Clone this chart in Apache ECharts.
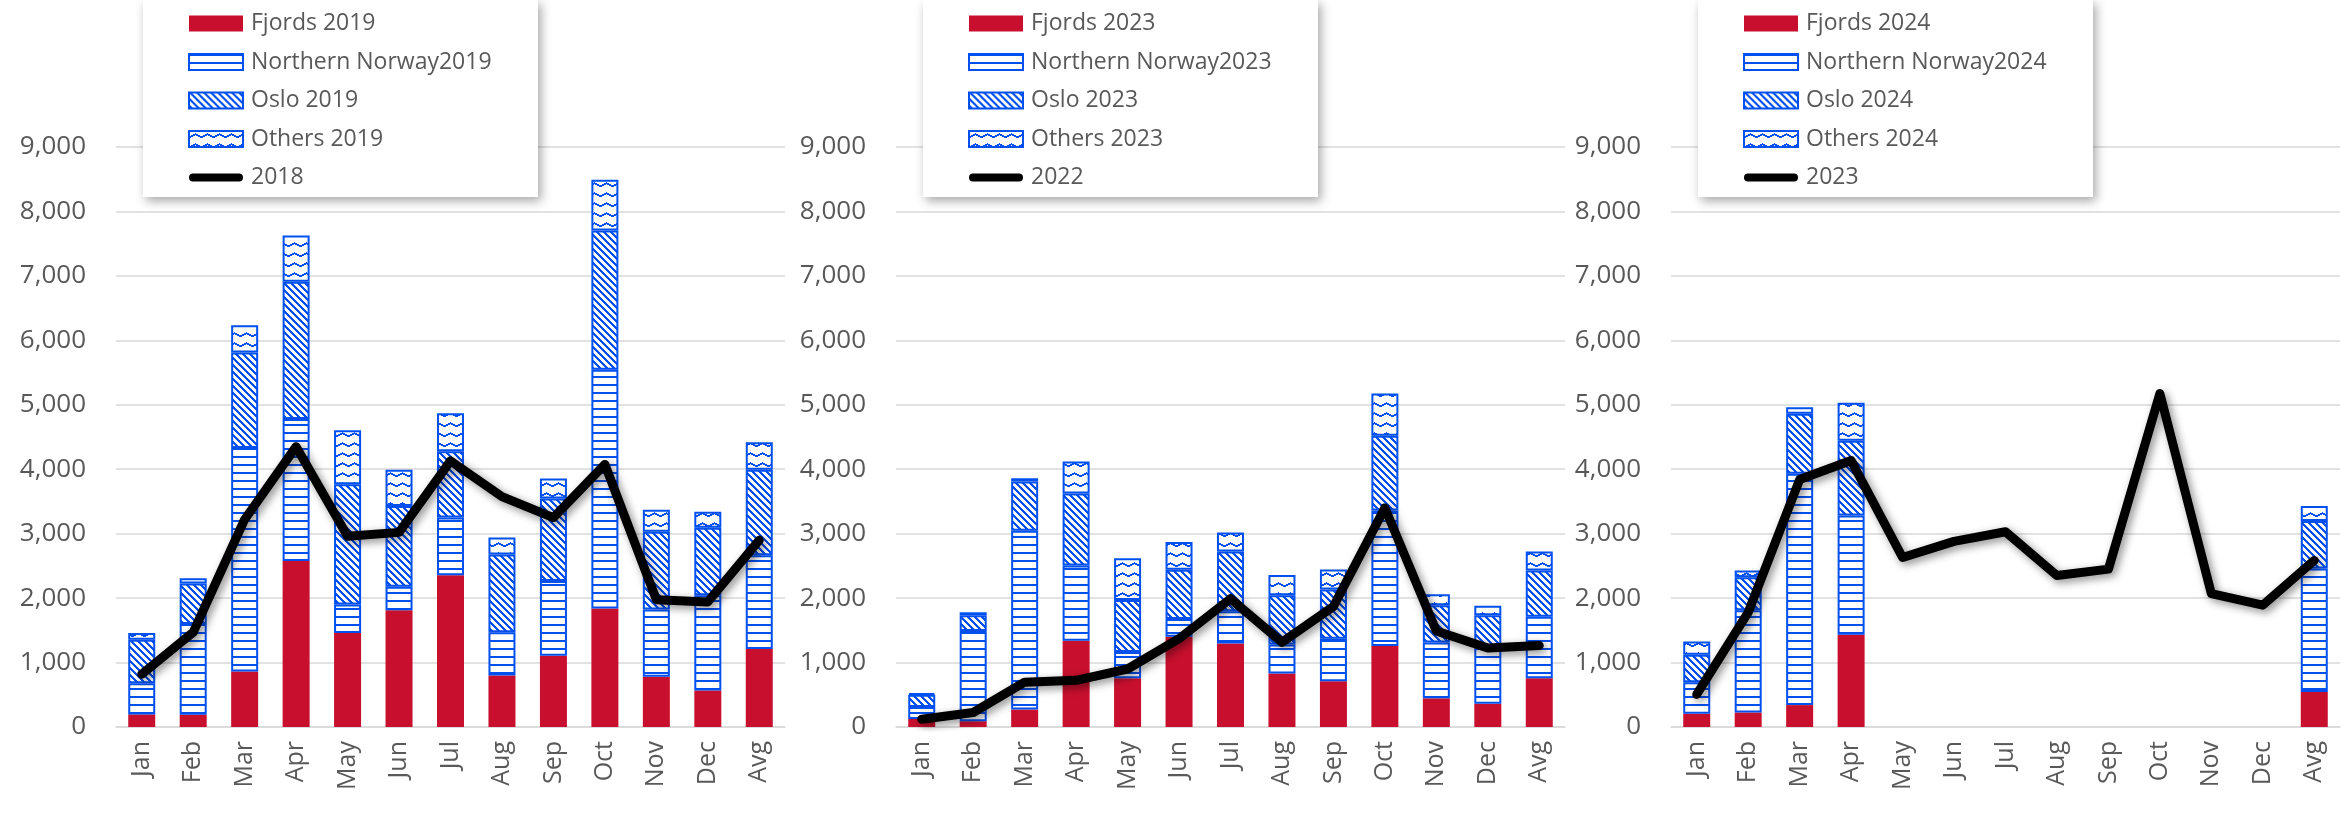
<!DOCTYPE html>
<html>
<head>
<meta charset="utf-8">
<script src="https://cdn.jsdelivr.net/npm/echarts@6/dist/echarts.min.js"></script>
<style>
  html, body { margin: 0; padding: 0; background: #fff; }
  #chart { width: 2351px; height: 813px; }
</style>
</head>
<body>
<div id="chart"></div>
<script>
// categories
var months = ['Jan', 'Feb', 'Mar', 'Apr', 'May', 'Jun', 'Jul', 'Aug', 'Sep', 'Oct', 'Nov', 'Dec', 'Avg']

// y axis ticks
var yMin = 0
var yMax = 9000
var yStep = 1000

// panel 1: 2019 stacked, 2018 line
var fjords2019 = [195, 190, 860, 2575, 1460, 1810, 2355, 800, 1105, 1840, 780, 565, 1210]
var north2019 = [485, 1410, 3470, 2205, 440, 365, 895, 670, 1160, 3705, 1045, 1480, 1455]
var oslo2019 = [675, 625, 1480, 2130, 1865, 1255, 1030, 1205, 1280, 2160, 1205, 1045, 1325]
var others2019 = [105, 85, 425, 715, 840, 560, 590, 265, 310, 785, 340, 250, 430]
var line2018 = [820, 1470, 3220, 4350, 2960, 3020, 4130, 3575, 3250, 4075, 1975, 1940, 2900]

// panel 2: 2023 stacked, 2022 line
var fjords2023 = [125, 90, 270, 1340, 755, 1400, 1295, 830, 710, 1255, 445, 360, 755]
var north2023 = [185, 1400, 2775, 1165, 410, 275, 500, 450, 660, 2105, 865, 865, 955]
var oslo2023 = [190, 245, 765, 1120, 805, 765, 930, 765, 765, 1160, 580, 510, 720]
var others2023 = [25, 45, 50, 495, 650, 430, 295, 315, 310, 655, 170, 145, 295]
var line2022 = [120, 225, 695, 725, 900, 1370, 1990, 1315, 1870, 3400, 1490, 1225, 1265]

// panel 3: 2024 stacked (Jan-Apr + Avg), 2023 line
var fjords2024 = [205, 225, 340, 1430, null, null, null, null, null, null, null, null, 545]
var north2024 = [490, 1585, 3590, 1850, null, null, null, null, null, null, null, null, 1915]
var oslo2024 = [425, 515, 930, 1160, null, null, null, null, null, null, null, null, 735]
var others2024 = [205, 105, 100, 590, null, null, null, null, null, null, null, null, 235]
var line2023 = [505, 1780, 3840, 4135, 2630, 2880, 3030, 2350, 2450, 5175, 2070, 1890, 2585]

var panels = [
  { bars: '2019', line: '2018', data: [fjords2019, north2019, oslo2019, others2019], lineData: line2018 },
  { bars: '2023', line: '2022', data: [fjords2023, north2023, oslo2023, others2023], lineData: line2022 },
  { bars: '2024', line: '2023', data: [fjords2024, north2024, oslo2024, others2024], lineData: line2023 }
]

var BLUE = '#0050f0'
var RED = '#c8102e'
var TEXT = '#595959'
var FONT = '"Open Sans", "Noto Sans", sans-serif'

// pattern tiles (Excel style fills)
function tile(w, h, draw) {
  var c = document.createElement('canvas')
  c.width = w
  c.height = h
  var ctx = c.getContext('2d')
  ctx.fillStyle = '#fff'
  ctx.fillRect(0, 0, w, h)
  ctx.fillStyle = BLUE
  draw(ctx, w, h)
  return c
}
// horizontal lines
var hLines = tile(8, 8, function (ctx, w) {
  ctx.fillRect(0, 0, w, 2)
})
// wide downward diagonal
var diag = tile(7, 7, function (ctx, w, h) {
  for (var y = 0; y < h; y++) {
    for (var x = 0; x < w; x++) {
      if ((x - y + 14) % 7 < 3) ctx.fillRect(x, y, 1, 1)
    }
  }
})
// wave
var wave = tile(12, 10, function (ctx, w) {
  for (var x = 0; x < w; x++) {
    var y = 2 + Math.round(Math.abs((x % 12) - 6) / 2)
    ctx.fillRect(x, y, 1, 2)
  }
})

var fills = [
  RED,
  { image: hLines, repeat: 'repeat' },
  { image: diag, repeat: 'repeat' },
  { image: wave, repeat: 'repeat' }
]
var prefixes = ['Fjords ', 'Northern Norway', 'Oslo ', 'Others ']

// thick rounded line for the legend (moveTo points keep the 54x16 box)
var lineIcon = 'path://M0,0M54,16M4,4L50,4A4,4,0,0,1,50,12L4,12A4,4,0,0,1,4,4Z'

var gridLeft = [116, 896, 1671]
var gridWidth = 669

var grids = []
var xAxes = []
var yAxes = []
var series = []
var legends = []
var boxes = []

panels.forEach(function (p, i) {
  grids.push({ left: gridLeft[i], width: gridWidth, top: 147, height: 580 })
  xAxes.push({
    type: 'category',
    gridIndex: i,
    data: months,
    axisLine: { lineStyle: { color: '#d9d9d9', width: 1.5 } },
    axisTick: { show: false },
    axisLabel: { rotate: 90, color: TEXT, fontSize: 25, fontFamily: FONT, margin: 14 }
  })
  yAxes.push({
    type: 'value',
    gridIndex: i,
    min: yMin,
    max: yMax,
    interval: yStep,
    axisLine: { show: false },
    axisTick: { show: false },
    splitLine: { lineStyle: { color: '#d9d9d9', width: 1.5 } },
    axisLabel: {
      color: TEXT,
      fontSize: 26,
      fontFamily: FONT,
      margin: 30,
      formatter: function (v) { return v.toLocaleString('en-US') }
    }
  })

  var names = []
  p.data.forEach(function (vals, k) {
    var name = prefixes[k] + p.bars
    names.push({ name: name, icon: 'rect' })
    series.push({
      name: name,
      type: 'bar',
      stack: 'p' + i,
      xAxisIndex: i,
      yAxisIndex: i,
      barWidth: 27,
      data: vals,
      itemStyle: {
        color: fills[k],
        borderColor: k === 0 ? RED : BLUE,
        borderWidth: k === 0 ? 0 : 2
      }
    })
  })
  names.push({ name: p.line, icon: lineIcon, itemStyle: { color: '#000', borderWidth: 0 } })
  series.push({
    name: p.line,
    type: 'line',
    xAxisIndex: i,
    yAxisIndex: i,
    data: p.lineData,
    symbol: 'none',
    z: 5,
    lineStyle: {
      color: '#000',
      width: 9,
      cap: 'round',
      join: 'round',
      shadowColor: 'rgba(0,0,0,0.45)',
      shadowBlur: 8,
      shadowOffsetX: 3,
      shadowOffsetY: 3
    },
    itemStyle: { color: '#000' }
  })

  // legend box with shadow
  boxes.push({
    type: 'rect',
    z: 50,
    shape: { x: gridLeft[i] + 27, y: 0, width: 395, height: 197 },
    style: {
      fill: '#fff',
      shadowBlur: 10,
      shadowOffsetX: 3,
      shadowOffsetY: 4,
      shadowColor: 'rgba(0,0,0,0.35)'
    }
  })
  legends.push({
    orient: 'vertical',
    left: gridLeft[i] + 72,
    top: 12,
    z: 60,
    itemWidth: 54,
    itemHeight: 16,
    itemGap: 15.5,
    padding: 0,
    selectedMode: false,
    data: names,
    textStyle: { color: TEXT, fontSize: 23, fontFamily: FONT, lineHeight: 22, padding: [0, 0, 0, 3] }
  })
})

var chart = echarts.init(document.getElementById('chart'))
chart.setOption({
  animation: false,
  backgroundColor: '#fff',
  grid: grids,
  xAxis: xAxes,
  yAxis: yAxes,
  legend: legends,
  graphic: boxes,
  series: series
})
</script>
</body>
</html>
